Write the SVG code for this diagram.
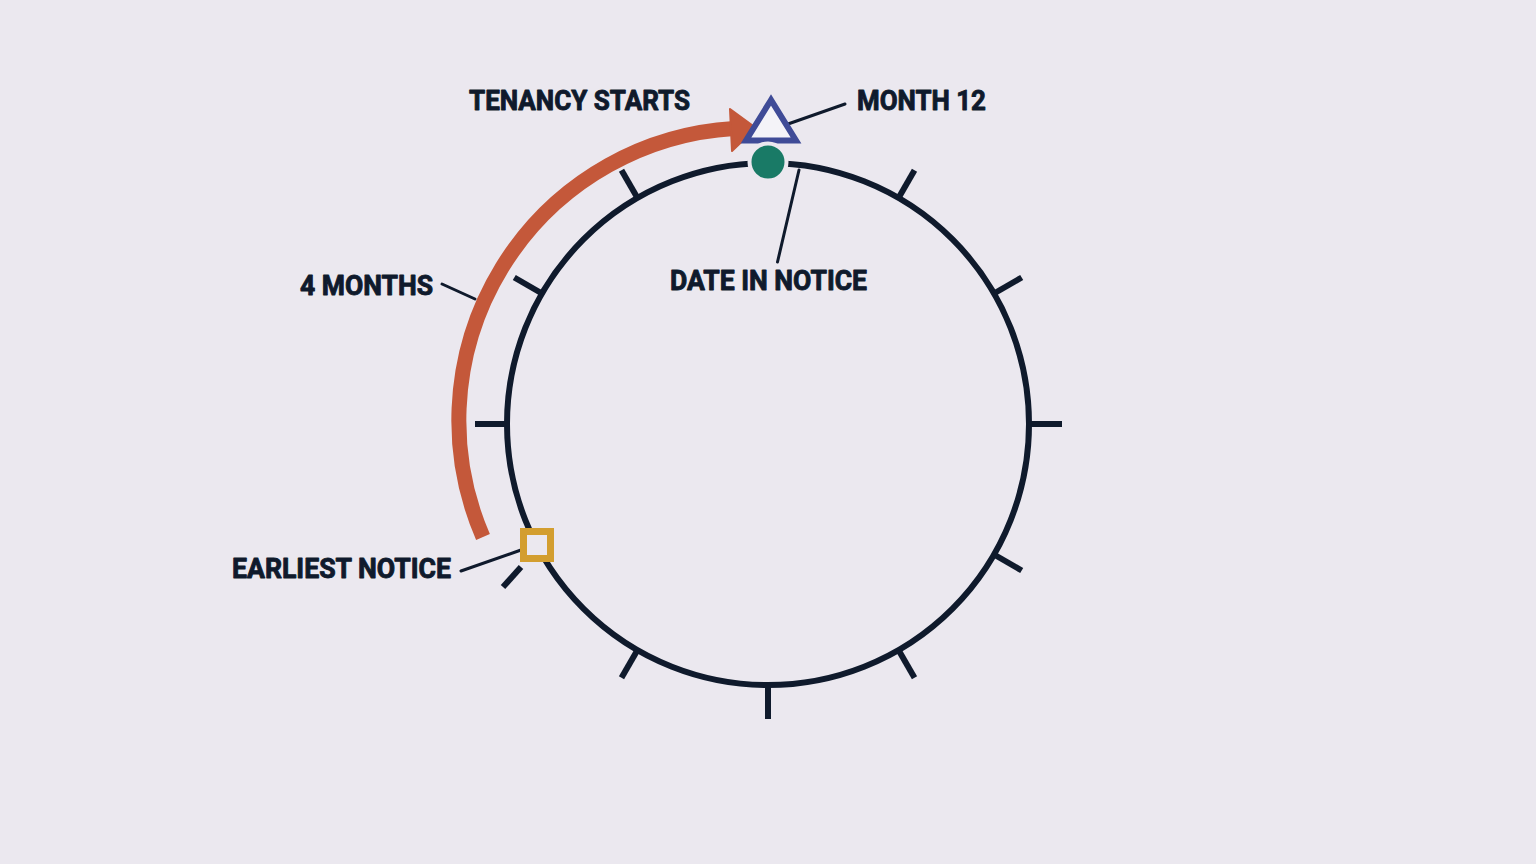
<svg xmlns="http://www.w3.org/2000/svg" width="1536" height="864" viewBox="0 0 1536 864">
<style>
.lbl{font-family:"Roboto","Liberation Sans",Arial,sans-serif;font-weight:700;font-size:27px;fill:#0f1a2c;stroke:#0f1a2c;stroke-width:0.9;stroke-linejoin:round}
.lead{stroke:#0f1a2c;stroke-width:3;fill:none;stroke-linecap:round}
.tick{stroke:#0f1a2c;stroke-width:6;fill:none}
</style>
<rect width="1536" height="864" fill="#ebe8ef"/>
<g id="dial">
<circle cx="768" cy="424" r="261" fill="none" stroke="#0f1a2c" stroke-width="6"/>
<g id="ticks">
<line class="tick" x1="898.5" y1="198" x2="914.5" y2="170.3"/>
<line class="tick" x1="994" y1="293.5" x2="1021.7" y2="277.5"/>
<line class="tick" x1="1029" y1="424" x2="1062" y2="424"/>
<line class="tick" x1="994" y1="554.5" x2="1021.7" y2="570.5"/>
<line class="tick" x1="898.5" y1="650" x2="914.5" y2="677.7"/>
<line class="tick" x1="768" y1="685" x2="768" y2="719"/>
<line class="tick" x1="637.5" y1="650" x2="621.5" y2="677.7"/>
<line class="tick" x1="521" y1="567" x2="503" y2="587"/>
<line class="tick" x1="507" y1="424" x2="475" y2="424"/>
<line class="tick" x1="542" y1="293.5" x2="514.3" y2="277.5"/>
<line class="tick" x1="637.5" y1="198" x2="621.5" y2="170.3"/>
</g>
</g>
<g id="connectors">
<path d="M 483 537 A 292.6 292.6 0 0 1 734 128.5" fill="none" stroke="#c4583a" stroke-width="15"/>
<polygon points="730,109 756,128 732,151" fill="#c4583a" stroke="#c4583a" stroke-width="2" stroke-linejoin="round"/>
<line class="lead" x1="845" y1="104" x2="788" y2="124"/>
<line class="lead" x1="799" y1="170" x2="777.5" y2="262"/>
<line class="lead" x1="442" y1="284" x2="475" y2="299"/>
<line class="lead" x1="461" y1="571" x2="521" y2="550"/>
</g>
<g id="month12">
<polygon points="771,100 746,140.5 796,140.5" fill="#f4f3f8" stroke="#3f4b97" stroke-width="6" stroke-linejoin="miter"/>
</g>
<g id="date-in-notice">
<circle cx="768" cy="162" r="18.5" fill="#197a66" stroke="#ebe8ef" stroke-width="4"/>
</g>
<g id="earliest-notice">
<rect x="523.5" y="531.5" width="27" height="27" fill="#ebe8ef" stroke="#d39e2f" stroke-width="7"/>
</g>
<g id="labels">
<text class="lbl" x="469" y="110" textLength="221" lengthAdjust="spacingAndGlyphs">TENANCY STARTS</text>
<text class="lbl" x="857" y="110" textLength="129" lengthAdjust="spacingAndGlyphs">MONTH 12</text>
<text class="lbl" x="670" y="290" textLength="197" lengthAdjust="spacingAndGlyphs">DATE IN NOTICE</text>
<text class="lbl" x="300" y="295" textLength="133" lengthAdjust="spacingAndGlyphs">4 MONTHS</text>
<text class="lbl" x="232" y="578" textLength="219" lengthAdjust="spacingAndGlyphs">EARLIEST NOTICE</text>
</g>
</svg>
